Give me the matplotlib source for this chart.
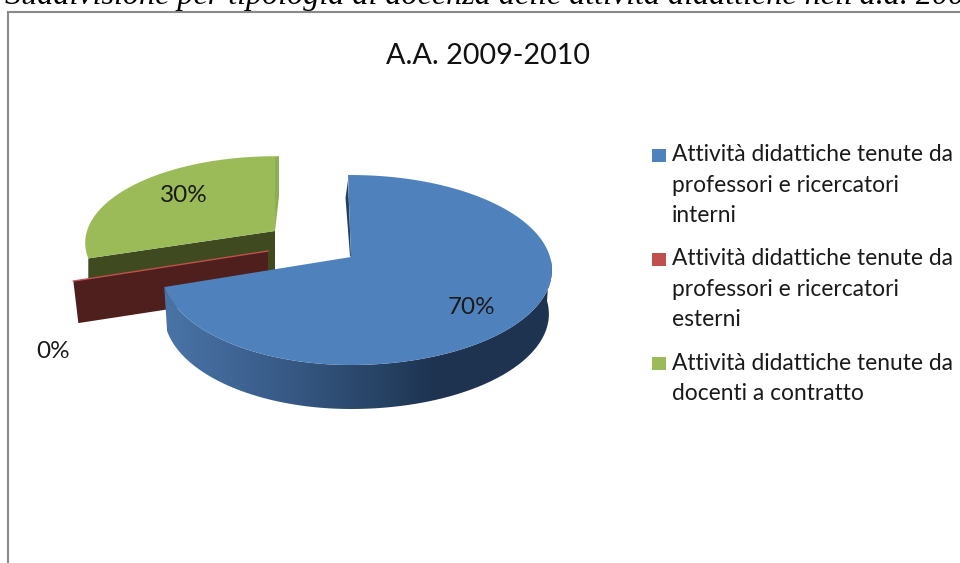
import numpy as np
import matplotlib
matplotlib.use("Agg")
import matplotlib.pyplot as plt
from matplotlib.colors import LinearSegmentedColormap
from matplotlib.patches import Polygon, Rectangle

# Data
title = "A.A. 2009-2010"
heading = "Suddivisione per tipologia di docenza delle attività didattiche nell'a.a. 2009-2010"
shares = [70, 0, 30]
labels = ["70%", "0%", "30%"]
legend_lines = [
    ["Attività didattiche tenute da", "professori e ricercatori", "interni"],
    ["Attività didattiche tenute da", "professori e ricercatori", "esterni"],
    ["Attività didattiche tenute da", "docenti a contratto"],
]
top_colors = ["#4f81bd", "#c0504d", "#9bbb59"]
cut_colors = ["#3d6596", "#4f1f1e", "#3f4a20"]

plt.rcParams["font.family"] = ["Lato", "DejaVu Sans"]
depth = 44


# Tilted circle with some perspective, in pixel coordinates
def project(t, apex, rl=188, rr=199, ry=93.2, p=0.137):
    u, v = np.sin(t), np.cos(t)
    r = np.where(u < 0, rl, rr)
    return apex[0] + r * u / (1 + p * v), apex[1] - ry * v / (1 + p * v)


fig = plt.figure(figsize=(9.6, 5.63), dpi=100)
ax = fig.add_axes([0, 0, 1, 1])
ax.set_xlim(0, 960)
ax.set_ylim(563, 0)
ax.axis("off")

# Slice angles, clockwise from the top
ends = np.radians(np.cumsum(shares) * 3.6)
starts = np.concatenate([[0], ends[:-1]])

# Green slice, pulled out
apex = (275, 231)
t = np.linspace(starts[2], ends[2], 80)
x, y = project(t, apex, ry=85)
ax.add_patch(Polygon([(x[-1], y[-1]), (x[-1] + 4, y[-1]), (x[-1] + 4, y[-1] + 40), apex],
                     fc="#8fae52", ec="none", zorder=1))
ax.add_patch(Polygon([(x[0], y[0]), apex, (apex[0], apex[1] + depth), (x[0], y[0] + depth)],
                     fc=cut_colors[2], ec="none", zorder=1))
ax.add_patch(Polygon(np.column_stack([np.r_[x, apex[0]], np.r_[y, apex[1]]]),
                     fc=top_colors[2], ec="none", zorder=2))

# Red slice has no width, only its cut face shows
apex = (268, 251)
x, y = project(starts[1], apex, rl=196)
ax.add_patch(Polygon([(x, y), apex, (apex[0], apex[1] + 43), (x + 5, y + 42)],
                     fc=cut_colors[1], ec="none", zorder=3))
ax.plot([x, apex[0]], [y, apex[1]], color=top_colors[1], lw=1.0, zorder=4)

# Blue slice: rim is a horizontal gradient clipped to the rim outline
apex = (351, 257)
t = np.linspace(ends[0], starts[0] + np.pi / 2, 160)
x, y = project(t, apex)
xb = apex[0] + (x - apex[0]) * 0.985
rim = Polygon(np.column_stack([np.r_[x, xb[::-1]], np.r_[y, (y + depth)[::-1]]]),
              transform=ax.transData, fc="none", ec="none")
ax.add_patch(rim)
shade = LinearSegmentedColormap.from_list(
    "rim", [(0, "#4a75a8"), (0.23, "#3d6291"), (0.49, "#2c4a6e"), (0.71, "#1d3350"), (1, "#1f3450")])
img = ax.imshow(np.linspace(0, 1, 400).reshape(1, -1), cmap=shade, aspect="auto",
                extent=(160, 552, 420, 260), zorder=5, interpolation="bilinear")
img.set_clip_path(rim)

t = np.linspace(starts[0], ends[0], 240)
x, y = project(t, apex)
x[0] -= 3
ax.add_patch(Polygon([(x[0], y[0] + 5), (x[0] - 2.5, y[0] + 23), (apex[0] - 1, apex[1] - 1), apex],
                     fc="#24405f", ec="none", zorder=6))
ax.add_patch(Polygon(np.column_stack([np.r_[x, apex[0]], np.r_[y, apex[1]]]),
                     fc=top_colors[0], ec="none", zorder=7))

# Value labels
ax.text(472, 308, labels[0], fontsize=17.5, color="#1a1a1a", ha="center", va="center", zorder=8)
ax.text(53, 351, labels[1], fontsize=17.5, color="#1a1a1a", ha="center", va="center", zorder=8)
ax.text(184, 196, labels[2], fontsize=17.5, color="#1a1a1a", ha="center", va="center", zorder=8)

ax.text(488, 56, title, fontsize=20.7, color="#111111", ha="center", va="center")

# Legend
legend_y = [154.5, 258.5, 363]
for lines, col, y0 in zip(legend_lines, top_colors, legend_y):
    ax.add_patch(Rectangle((652, y0 - 6), 14, 13, fc=col, ec="none"))
    for i, line in enumerate(lines):
        ax.text(672, y0 + i * 30.5, line, fontsize=16.4, color="#1a1a1a", ha="left", va="center")

# Chart frame and the clipped line of document text above it
ax.plot([960, 8.3, 8.3], [12, 12, 563], color="#8a8a8a", lw=1.5, solid_joinstyle="miter")
ax.text(5, 4, heading, fontsize=23.1, style="italic", family="Liberation Serif",
        color="black", ha="left", va="baseline")

fig.savefig("out.png", dpi=100)
